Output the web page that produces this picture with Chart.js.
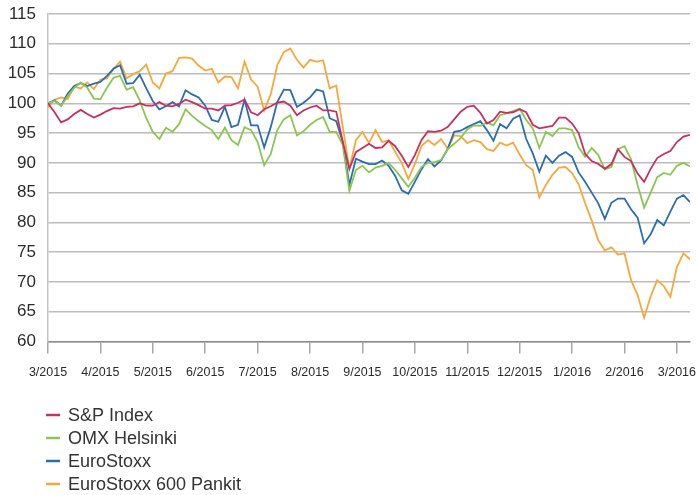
<!DOCTYPE html>
<html>
<head>
<meta charset="utf-8">
<script src="https://cdn.jsdelivr.net/npm/chart.js@4/dist/chart.umd.min.js"></script>
<style>
  html, body { margin: 0; padding: 0; background: #ffffff; }
  #c { display: block; }
</style>
</head>
<body>
<canvas id="c" width="696" height="495"></canvas>
<script>
// ---- data (index 100 = 3/2015) ----
const tickLabels = ['3/2015','4/2015','5/2015','6/2015','7/2015','8/2015','9/2015',
                    '10/2015','11/2015','12/2015','1/2016','2/2016','3/2016'];
const pointsPerMonth = 8;   // samples per month
const seriesNames = ['S&P Index', 'OMX Helsinki', 'EuroStoxx', 'EuroStoxx 600 Pankit'];

const spIndex = [
  100, 98.5, 96.8, 97.3, 98.2, 98.9, 98.2, 97.6,
  98.1, 98.7, 99.2, 99.1, 99.4, 99.5, 100, 99.6,
  99.6, 100.2, 99.6, 99.5, 99.9, 100.6, 100.2, 99.7,
  99.1, 99.1, 98.8, 99.6, 99.7, 100.1, 100.6, 98.5,
  98.0, 99, 99.5, 100.1, 100.3, 99.6, 98, 98.8,
  99.3, 99.6, 98.8, 98.8, 98.6, 93.5, 89, 91.8,
  92.5, 93.2, 92.5, 92.6, 93.7, 92.8, 91.2, 89.3,
  91.3, 93.8, 95.3, 95.2, 95.4, 96, 97.3, 98.6,
  99.4, 99.6, 98.4, 96.6, 97.2, 98.6, 98.4, 98.5,
  99, 98.5, 96.4, 95.8, 96, 96.2, 97.6, 97.6,
  96.6, 95, 91.5, 90.3, 89.8, 89, 89.8, 92.3,
  91, 90.3, 88.2, 86.8, 89, 90.8, 91.5, 92,
  93.5, 94.4, 94.7
];
const omxHelsinki = [
  100, 100.4, 99.6, 101.2, 102.6, 103.5, 102.6, 100.8,
  100.7, 102.6, 104.3, 104.6, 102.3, 102.7, 100.5, 97.5,
  95.2, 94, 95.9, 95.2, 96.5, 99, 97.9, 97,
  96.2, 95.5, 94, 95.9, 93.8, 93, 96, 95.5,
  93.5, 89.6, 91.5, 95.5, 97.3, 98, 94.6, 95.3,
  96.4, 97.2, 97.7, 95.2, 95.2, 93, 85.3, 88.8,
  89.5, 88.4, 89.2, 89.5, 90, 88.8, 87.4, 86,
  87.5, 89.3, 90, 90.1, 90.5, 92.3, 93.2, 94.2,
  95.6, 96.3, 96.2, 96.8, 96.3, 98, 98.3, 98.7,
  99.1, 97.2, 95.8, 92.5, 95.2, 94.5, 95.8, 95.8,
  95.5, 92.6, 91, 92.5, 91.3, 88.9, 89.3, 92.3,
  92.8, 90.6, 86.3, 82.5, 85, 87.6, 88.3, 88,
  89.5, 90, 89.4
];
const euroStoxx = [
  100, 100.5, 99.6, 101.6, 102.9, 103.4, 102.9, 103.3,
  103.6, 104.6, 105.8, 106.4, 103.3, 103.4, 104.8, 102.5,
  100.4, 99, 99.5, 100.2, 99.5, 102.2, 101.5, 101,
  99.6, 97.2, 96.9, 99.4, 96, 96.4, 100.6, 96.3,
  96.3, 92.6, 96, 100.2, 102.3, 102.2, 99.4, 100.1,
  101, 102.3, 102, 97.5, 97, 93.5, 86.3, 90.7,
  90.2, 89.8, 89.8, 90.4, 89.5, 87.8, 85.4, 84.8,
  86.8, 88.9, 90.6, 89.4, 90.4, 92.3, 95.2, 95.4,
  96, 96.5, 97, 95.5, 93.7, 96.5, 95.8, 97.4,
  98, 94, 91.6, 88.5, 91.2, 90, 91.2, 91.8,
  91, 88.4, 86.8, 85, 83.2, 80.6, 83.3, 84,
  84, 82.2, 80.8, 76.5, 78, 80.4, 79.5, 81.8,
  84, 84.6, 83.4
];
const stoxxBanks = [
  99.3, 100.6, 101, 100.7, 102.8, 102.5, 103.5, 102.4,
  104, 104.2, 105.8, 107, 104.2, 104.9, 105.4, 106.5,
  103.5, 102.5, 105, 105.4, 107.6, 107.7, 107.5, 106.3,
  105.5, 105.8, 103.5, 104.5, 104.4, 102.5, 107, 104,
  102.8, 98.8, 101.5, 106.4, 108.6, 109.2, 107.3, 106,
  107.3, 107, 107.2, 102.5, 103, 96, 89, 93.8,
  95.2, 93.3, 95.5, 93.5, 93.8, 91.8, 90, 87.3,
  89.8, 92.8, 93.8, 93, 94, 92.4, 94.6, 94.5,
  93.3, 93.8, 93.5, 92.3, 92, 93.4, 92.9, 93.4,
  91.4, 89.6, 88.8, 84.2, 86.3, 88, 89.2, 89.3,
  88.3, 86.4, 83.2, 80.3, 77, 75.3, 75.8, 74.6,
  74.8, 70.3, 67.8, 64, 67.6, 70.3, 69.3, 67.5,
  72.5, 74.8, 73.8
];
const seriesValues = [spIndex, omxHelsinki, euroStoxx, stoxxBanks];
const seriesColors = ['#c8305f', '#8cc652', '#2a6db2', '#f6a83c'];

// ---- chart ----
const toPoints = arr => arr.map((v, i) => ({ x: i / pointsPerMonth, y: v }));

const verticalLegend = {
  id: 'verticalLegend',
  afterDraw(chart) {
    const ctx = chart.ctx;
    ctx.save();
    ctx.font = '18px "Liberation Sans", Arial, sans-serif';
    ctx.textBaseline = 'middle';
    ctx.textAlign = 'left';
    chart.data.datasets.forEach((ds, k) => {
      const y = 415 + k * 23;
      ctx.strokeStyle = ds.borderColor;
      ctx.lineWidth = 2.5;
      ctx.beginPath();
      ctx.moveTo(46, y);
      ctx.lineTo(60, y);
      ctx.stroke();
      ctx.fillStyle = '#333333';
      ctx.fillText(ds.label, 68, y + 1);
    });
    ctx.restore();
  }
};

new Chart(document.getElementById('c'), {
  type: 'line',
  data: {
    datasets: seriesNames.map((name, k) => ({
      label: name,
      data: toPoints(seriesValues[k]),
      borderColor: seriesColors[k],
      backgroundColor: seriesColors[k],
      borderWidth: 1.8,
      pointRadius: 0,
      tension: 0,
      fill: false
    }))
  },
  options: {
    responsive: false,
    animation: false,
    layout: { padding: { top: 14, right: 6, bottom: 0, left: 0 } },
    plugins: { legend: { display: false }, tooltip: { enabled: false } },
    scales: {
      x: {
        type: 'linear',
        min: 0,
        max: 12.25,
        afterBuildTicks: s => { s.ticks = tickLabels.map((_, k) => ({ value: k })); },
        afterFit: s => { s.height = 153.5; s.paddingLeft = 0; s.paddingRight = 0; },
        grid: { drawOnChartArea: false, drawTicks: true, tickLength: 12, color: '#a8a8a8', lineWidth: 1.5 },
        border: { display: true, color: '#8c8c8c', width: 1.5 },
        ticks: {
          padding: 12,
          autoSkip: false,
          maxRotation: 0,
          color: '#2b2b2b',
          font: { family: '"Liberation Sans", Arial, sans-serif', size: 12.5 },
          callback: v => tickLabels[Math.round(v)]
        }
      },
      y: {
        min: 60,
        max: 115,
        afterFit: s => { s.width = 48; s.paddingTop = 0; s.paddingBottom = 0; },
        grid: { drawTicks: false, color: '#bcbcbc', lineWidth: 1.5 },
        border: { display: true, color: '#c4c4c4', width: 1.5 },
        ticks: {
          stepSize: 5,
          padding: 12,
          color: '#2b2b2b',
          font: { family: '"Liberation Sans", Arial, sans-serif', size: 17 }
        }
      }
    }
  },
  plugins: [verticalLegend]
});
</script>
</body>
</html>
